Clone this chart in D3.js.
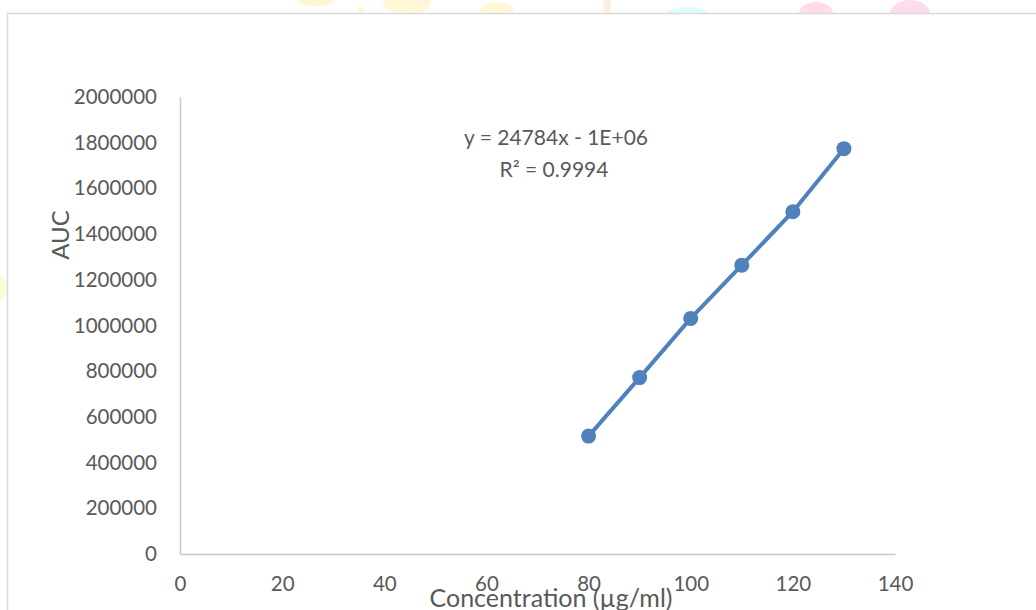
<!DOCTYPE html>
<html>
<head>
<meta charset="utf-8">
<script src="https://cdn.jsdelivr.net/npm/d3@7"></script>
<style>
  html, body { margin: 0; padding: 0; background: #fff; }
  svg { display: block; }
  text { font-family: Lato, "Open Sans", sans-serif; fill: #595959; }
</style>
</head>
<body>
<svg id="chart" width="1036" height="610"></svg>
<script>
// Calibration data: concentration (µg/ml) vs peak area (AUC)
const concentration = [80, 90, 100, 110, 120, 130];
const auc = [516000, 772000, 1031000, 1264000, 1498000, 1774000];

const xTicks = [0, 20, 40, 60, 80, 100, 120, 140];
const yTicks = [0, 200000, 400000, 600000, 800000, 1000000, 1200000, 1400000, 1600000, 1800000, 2000000];

const equationLines = ["y = 24784x - 1E+06", "R\u00b2 = 0.9994"];
const xTitle = "Concentration (\u00b5g/ml)";
const yTitle = "AUC";

// Faint decorative shapes in the page margin
const decor = [
  { cx: 316, cy: 0, rx: 18, ry: 6, color: "#fff6d0" },
  { cx: 361, cy: 11, rx: 3, ry: 4, color: "#fff6d0" },
  { cx: 407, cy: 2, rx: 24, ry: 12, color: "#fff7d6" },
  { cx: 497, cy: 14, rx: 18, ry: 12, color: "#fff7d6" },
  { cx: 607, cy: 6, rx: 4, ry: 10, color: "#ffeee0" },
  { cx: 687, cy: 20, rx: 27, ry: 13, color: "#e0fcfc" },
  { cx: 816, cy: 14, rx: 17, ry: 12, color: "#ffdcec" },
  { cx: 910, cy: 14, rx: 20, ry: 14, color: "#ffdcec" },
  { cx: 0, cy: 287, rx: 7, ry: 12, color: "#fbfbdc" }
];

const svg = d3.select("#chart");
const W = 1036, H = 610;

svg.append("rect").attr("width", W).attr("height", H).attr("fill", "#fff");

svg.append("g").selectAll("ellipse").data(decor).join("ellipse")
  .attr("cx", d => d.cx).attr("cy", d => d.cy)
  .attr("rx", d => d.rx).attr("ry", d => d.ry)
  .attr("fill", d => d.color);

// Chart area (white panel with light border)
svg.append("rect")
  .attr("x", 7.5).attr("y", 13.5)
  .attr("width", W + 20).attr("height", H + 20)
  .attr("fill", "#fff")
  .attr("stroke", "#d9d9d9")
  .attr("stroke-width", 1.5);

const x = d3.scaleLinear().domain([0, 140]).range([180, 895]);
const y = d3.scaleLinear().domain([0, 2000000]).range([554, 97]);

// Y axis
const yAxis = svg.append("g")
  .attr("transform", `translate(${x(0)},0)`)
  .call(d3.axisLeft(y).tickValues(yTicks).tickSize(0).tickPadding(23).tickFormat(d3.format("d")));
yAxis.select(".domain").attr("stroke", "#c8c8c8").attr("stroke-width", 1.5);
yAxis.selectAll("text").style("font-size", "20.5px").attr("fill", "#595959")
  .style("font-family", "Lato, sans-serif");

// X axis
const xAxis = svg.append("g")
  .attr("transform", `translate(0,${y(0)})`)
  .call(d3.axisBottom(x).tickValues(xTicks).tickSize(0).tickPadding(22).tickFormat(d3.format("d")));
xAxis.select(".domain").attr("stroke", "#c8c8c8").attr("stroke-width", 1.5);
xAxis.selectAll("text").style("font-size", "20.5px").attr("fill", "#595959")
  .style("font-family", "Lato, sans-serif");

// Axis titles
svg.append("text")
  .attr("transform", "translate(61,235) rotate(-90)")
  .attr("text-anchor", "middle")
  .attr("dy", "0.35em")
  .style("font-size", "24px")
  .text(yTitle);

svg.append("text")
  .attr("x", 551).attr("y", 607)
  .attr("text-anchor", "middle")
  .style("font-size", "25px")
  .text(xTitle);

// Series line and markers
const pts = concentration.map((c, i) => [c, auc[i]]);
svg.append("path")
  .datum(pts)
  .attr("fill", "none")
  .attr("stroke", "#4f81bd")
  .attr("stroke-width", 4)
  .attr("d", d3.line().x(d => x(d[0])).y(d => y(d[1])));

svg.append("g").selectAll("circle").data(pts).join("circle")
  .attr("cx", d => x(d[0])).attr("cy", d => y(d[1]))
  .attr("r", 7.5)
  .attr("fill", "#4f81bd");

// Trendline equation
svg.append("g").selectAll("text").data(equationLines).join("text")
  .attr("x", (d, i) => i === 0 ? 556 : 554)
  .attr("y", (d, i) => i === 0 ? 138 : 170)
  .attr("dy", "0.35em")
  .attr("text-anchor", "middle")
  .style("font-size", "21px")
  .text(d => d);
</script>
</body>
</html>
